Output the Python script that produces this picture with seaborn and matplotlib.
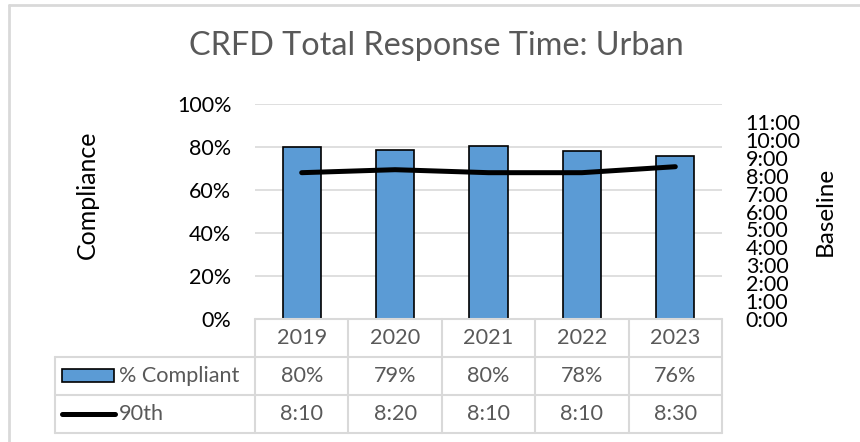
import numpy as np
import pandas as pd
import matplotlib
matplotlib.use("Agg")
import matplotlib.pyplot as plt
import seaborn as sns
from matplotlib.lines import Line2D
from matplotlib.patches import Rectangle
from matplotlib.ticker import FixedLocator, FuncFormatter, PercentFormatter
from matplotlib.transforms import blended_transform_factory

# ---- data ----
years = ["2019", "2020", "2021", "2022", "2023"]
pct_compliant = [79.8, 78.6, 80.4, 78.2, 75.7]          # % Compliant
baseline_90th = ["8:10", "8:20", "8:10", "8:10", "8:30"]  # 90th percentile time
title = "CRFD Total Response Time: Urban"
left_label = "Compliance"
right_label = "Baseline"
series_names = ["% Compliant", "90th"]

def to_hours(s):
    h, m = s.split(":")
    return int(h) + int(m) / 60.0

hours_90th = [to_hours(s) for s in baseline_90th]
df = pd.DataFrame({"year": years, "pct": pct_compliant, "hours": hours_90th})

# ---- style ----
sns.set_theme(style="white")
plt.rcParams["font.family"] = ["Lato", "DejaVu Sans"]

W, H = 860, 442
fig = plt.figure(figsize=(W / 100, H / 100), dpi=100)
fig.patch.set_facecolor("white")

def fx(x):
    return x / W

def fy(y):
    return 1 - y / H

ax_l, ax_r, ax_t, ax_b = 255, 722, 104, 319
ax = fig.add_axes([fx(ax_l), fy(ax_b), (ax_r - ax_l) / W, (ax_b - ax_t) / H])

bar_color = "#5B9BD5"
grid_color = "#D9D9D9"
text_grey = "#595959"
tfs = 15.6

sns.barplot(data=df, x="year", y="pct", ax=ax, color=bar_color, width=0.41,
            edgecolor="black", linewidth=1.2, saturation=1, zorder=3)
ax.set_xlim(-0.5, len(years) - 0.5)
ax.set_ylim(0, 100)
ax.yaxis.set_major_locator(FixedLocator([0, 20, 40, 60, 80, 100]))
ax.yaxis.set_major_formatter(PercentFormatter(100, decimals=0))
ax.grid(axis="y", color=grid_color, linewidth=1.2, zorder=0)
ax.grid(axis="x", visible=False)
ax.set_xlabel("")
ax.set_ylabel("")
ax.set_xticks([])
for s in ax.spines.values():
    s.set_visible(False)
ax.tick_params(axis="y", length=0, pad=17, labelsize=15.5, labelcolor="black")

ax2 = ax.twinx()
sns.lineplot(x=np.arange(len(years)), y=df["hours"], ax=ax2, color="black",
             linewidth=3.6, solid_capstyle="round", zorder=4)
ax2.set_ylim(0, 12)
ax2.yaxis.set_major_locator(FixedLocator(list(range(0, 12))))
ax2.yaxis.set_major_formatter(FuncFormatter(lambda v, p: f"{int(v)}:{int(round((v % 1) * 60)):02d}"))
ax2.set_ylabel("")
ax2.grid(False)
for s in ax2.spines.values():
    s.set_visible(False)
ax2.tick_params(axis="y", length=0, pad=17, labelsize=15.5, labelcolor="black")

# ---- titles / axis labels ----
fig.text(fx(436), fy(46), title, ha="center", va="center", fontsize=23.3, color=text_grey)
fig.text(fx(87), fy(195), left_label, ha="center", va="center", rotation=90, fontsize=18, color="black")
fig.text(fx(825), fy(211), right_label, ha="center", va="center", rotation=90, fontsize=17.5, color="black")

# ---- data table ----
bt = blended_transform_factory(ax.transData, fig.transFigure)
row_y = [319, 357, 395, 433]
tbl_left = 55
lc = grid_color
lw = 1.5
fig.add_artist(Line2D([fx(ax_l), fx(ax_r)], [fy(row_y[0])] * 2, color=lc, lw=lw))
for yy in row_y[1:]:
    fig.add_artist(Line2D([fx(tbl_left), fx(ax_r)], [fy(yy)] * 2, color=lc, lw=lw))
fig.add_artist(Line2D([fx(tbl_left)] * 2, [fy(row_y[1]), fy(row_y[3])], color=lc, lw=lw))
for i in range(len(years) + 1):
    fig.add_artist(Line2D([i - 0.5] * 2, [fy(row_y[0]), fy(row_y[3])], color=lc, lw=lw, transform=bt))

row_c = [(row_y[k] + row_y[k + 1]) / 2 for k in range(3)]
for i, yr in enumerate(years):
    fig.text(i, fy(row_c[0]), yr, transform=bt, ha="center", va="center", fontsize=tfs, color=text_grey)
    fig.text(i, fy(row_c[1]), f"{int(pct_compliant[i] + 0.5)}%", transform=bt, ha="center", va="center",
             fontsize=tfs, color=text_grey)
    fig.text(i, fy(row_c[2]), baseline_90th[i], transform=bt, ha="center", va="center",
             fontsize=tfs, color=text_grey)

fig.add_artist(Rectangle((fx(62), fy(382)), (114 - 62) / W, 13 / H, transform=fig.transFigure,
                         facecolor=bar_color, edgecolor="black", linewidth=1.2))
fig.add_artist(Line2D([fx(62), fx(115)], [fy(414)] * 2, color="black", lw=3.6, solid_capstyle="round"))
fig.text(fx(119), fy(row_c[1]), series_names[0], ha="left", va="center", fontsize=tfs, color=text_grey)
fig.text(fx(119), fy(row_c[2]), series_names[1], ha="left", va="center", fontsize=tfs, color=text_grey)

# outer chart border
fig.add_artist(Line2D([fx(9), fx(W)], [fy(5)] * 2, color=lc, lw=2))
fig.add_artist(Line2D([fx(9)] * 2, [fy(5), fy(H)], color=lc, lw=2))

fig.savefig("out.png", dpi=100, facecolor="white")
